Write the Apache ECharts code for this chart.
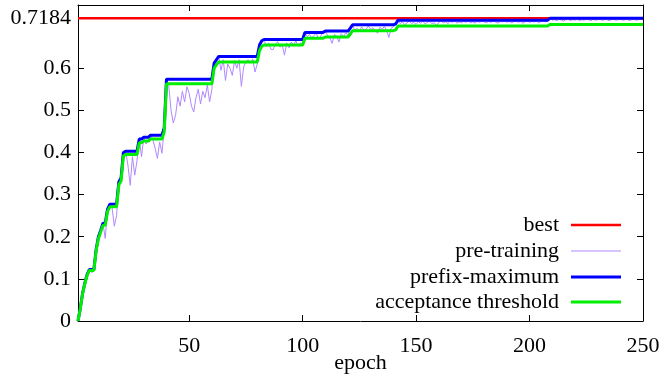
<!DOCTYPE html>
<html>
<head>
<meta charset="utf-8">
<script src="https://cdn.jsdelivr.net/npm/echarts@6/dist/echarts.min.js"></script>
<style>
    html, body { margin: 0; padding: 0; background: #fff; }
    #main { width: 663px; height: 378px; }
</style>
</head>
<body>
<div id="main"></div>
<script>
var bestValue = 0.7184;
var bestEpochs = [1, 250];

// pre-training value for epochs 1..250
var preTraining = [
    0, 0.03, 0.065, 0.09, 0.11, 0.122, 0.115, 0.118, 0.17, 0.2,
    0.215, 0.232, 0.196, 0.265, 0.277, 0.27, 0.225, 0.25, 0.33, 0.34,
    0.4, 0.403, 0.37, 0.322, 0.39, 0.346, 0.38, 0.432, 0.39, 0.436,
    0.42, 0.43, 0.441, 0.43, 0.41, 0.386, 0.425, 0.398, 0.458, 0.574,
    0.56, 0.5, 0.47, 0.488, 0.532, 0.51, 0.545, 0.52, 0.556, 0.54,
    0.51, 0.496, 0.53, 0.55, 0.515, 0.545, 0.53, 0.56, 0.52, 0.55,
    0.612, 0.62, 0.628, 0.595, 0.62, 0.571, 0.61, 0.6, 0.583, 0.618,
    0.6, 0.62, 0.557, 0.603, 0.615, 0.62, 0.612, 0.622, 0.591, 0.61,
    0.655, 0.665, 0.668, 0.65, 0.66, 0.645, 0.644, 0.658, 0.663, 0.65,
    0.655, 0.631, 0.66, 0.648, 0.662, 0.655, 0.665, 0.652, 0.66, 0.658,
    0.685, 0.675, 0.68, 0.672, 0.678, 0.683, 0.67, 0.676, 0.686, 0.688,
    0.678, 0.672, 0.659, 0.68, 0.676, 0.662, 0.682, 0.675, 0.684, 0.678,
    0.695, 0.703, 0.69, 0.695, 0.688, 0.698, 0.69, 0.693, 0.7, 0.692,
    0.696, 0.69, 0.683, 0.697, 0.692, 0.699, 0.69, 0.673, 0.695, 0.698,
    0.705, 0.714, 0.706, 0.71, 0.703, 0.708, 0.712, 0.706, 0.709, 0.704,
    0.71, 0.707, 0.712, 0.705, 0.709, 0.711, 0.706, 0.708, 0.701, 0.709,
    0.712, 0.708, 0.71, 0.706, 0.711, 0.709, 0.712, 0.707, 0.71, 0.708,
    0.711, 0.709, 0.712, 0.708, 0.71, 0.707, 0.711, 0.709, 0.712, 0.71,
    0.708, 0.711, 0.709, 0.712, 0.71, 0.707, 0.711, 0.71, 0.712, 0.709,
    0.711, 0.708, 0.71, 0.712, 0.709, 0.711, 0.707, 0.71, 0.712, 0.709,
    0.711, 0.71, 0.712, 0.708, 0.711, 0.713, 0.71, 0.712, 0.7184, 0.714,
    0.715, 0.713, 0.716, 0.714, 0.712, 0.715, 0.716, 0.713, 0.715, 0.714,
    0.716, 0.713, 0.715, 0.714, 0.716, 0.715, 0.713, 0.716, 0.714, 0.715,
    0.716, 0.714, 0.715, 0.716, 0.713, 0.715, 0.716, 0.714, 0.715, 0.716,
    0.714, 0.715, 0.716, 0.713, 0.715, 0.716, 0.714, 0.715, 0.716, 0.715
];

// [epoch, value] where the prefix-maximum changes
var prefixMax = [
    [1, 0], [2, 0.03], [3, 0.065], [4, 0.09], [5, 0.11], [6, 0.122], [8, 0.122],
    [9, 0.17], [10, 0.2], [11, 0.215], [12, 0.232], [13, 0.232], [14, 0.265],
    [15, 0.277], [18, 0.277], [19, 0.33], [20, 0.34], [21, 0.4], [22, 0.403],
    [27, 0.403], [28, 0.432], [29, 0.432], [30, 0.436], [32, 0.436], [33, 0.441],
    [38, 0.441], [39, 0.458], [40, 0.574], [60, 0.574], [61, 0.612], [62, 0.62],
    [63, 0.628], [80, 0.628], [81, 0.655], [82, 0.665], [83, 0.668], [100, 0.668],
    [101, 0.685], [109, 0.685], [110, 0.688], [120, 0.688], [121, 0.695],
    [122, 0.703], [140, 0.703], [141, 0.705], [142, 0.714], [208, 0.714],
    [209, 0.7184], [250, 0.7184]
];

var threshold = [
    [1, 0], [2, 0.029], [3, 0.064], [4, 0.088], [5, 0.108], [6, 0.12], [8, 0.12],
    [9, 0.167], [10, 0.196], [11, 0.211], [12, 0.227], [13, 0.227], [14, 0.26],
    [15, 0.271], [18, 0.271], [19, 0.323], [20, 0.333], [21, 0.392], [22, 0.395],
    [27, 0.395], [28, 0.423], [29, 0.423], [30, 0.427], [32, 0.427], [33, 0.432],
    [38, 0.432], [39, 0.449], [40, 0.563], [60, 0.563], [61, 0.6], [62, 0.608],
    [63, 0.615], [80, 0.615], [81, 0.642], [82, 0.652], [83, 0.655], [100, 0.655],
    [101, 0.671], [109, 0.671], [110, 0.674], [120, 0.674], [121, 0.681],
    [122, 0.689], [140, 0.689], [141, 0.691], [142, 0.7], [208, 0.7],
    [209, 0.704], [250, 0.704]
];

var xTicks = [50, 100, 150, 200, 250];
var yTicks = [0, 0.1, 0.2, 0.3, 0.4, 0.5, 0.6, 0.7184];

var seriesNames = ['best', 'pre-training', 'prefix-maximum', 'acceptance threshold'];
var seriesColors = ['#ff0000', '#b088ff', '#0000ff', '#00ee00'];
var lineWidths = [2.5, 1, 3, 3];

var fontName = 'Liberation Serif';

var chart = echarts.init(document.getElementById('main'));

function xAxisOf(pos, showLabel) {
    return {
        type: 'value',
        position: pos,
        min: 1,
        max: 250,
        name: showLabel ? 'epoch' : '',
        nameLocation: 'middle',
        nameGap: 31,
        nameMoveOverlap: false,
        nameTextStyle: { fontFamily: fontName, fontSize: 22, color: '#000' },
        axisLine: { show: true, onZero: false, lineStyle: { color: '#000', width: 1 } },
        axisTick: { show: true, inside: true, length: 6, customValues: xTicks, lineStyle: { color: '#000' } },
        axisLabel: {
            show: showLabel,
            customValues: xTicks,
            margin: 14,
            fontFamily: fontName,
            fontSize: 22,
            color: '#000'
        },
        splitLine: { show: false }
    };
}

function yAxisOf(pos, showLabel) {
    return {
        type: 'value',
        position: pos,
        min: 0,
        max: 0.75,
        axisLine: { show: true, onZero: false, lineStyle: { color: '#000', width: 1 } },
        axisTick: { show: true, inside: true, length: 6, customValues: yTicks, lineStyle: { color: '#000' } },
        axisLabel: {
            show: showLabel,
            customValues: yTicks,
            margin: 7,
            fontFamily: fontName,
            fontSize: 22,
            color: '#000',
            formatter: function(v) { return String(v); }
        },
        splitLine: { show: false }
    };
}

var legendTops = [214, 240, 266, 291];
var legends = [];
for (var i = 0; i < seriesNames.length; i++) {
    legends.push({
        data: [seriesNames[i]],
        right: 42,
        top: legendTops[i],
        align: 'right',
        icon: 'rect',
        itemWidth: 50,
        itemHeight: lineWidths[i],
        padding: 0,
        selectedMode: false,
        textStyle: { fontFamily: fontName, fontSize: 22, color: '#000', padding: [0, 7, 0, 0] }
    });
}

var preData = [];
for (var j = 0; j < preTraining.length; j++) {
    preData.push([j + 1, preTraining[j]]);
}

var option = {
    animation: false,
    backgroundColor: '#fff',
    textStyle: { fontFamily: fontName, fontSize: 22 },
    grid: { left: 78, right: 20, top: 5, bottom: 57, containLabel: false, outerBoundsMode: 'none' },
    legend: legends,
    xAxis: [xAxisOf('bottom', true), xAxisOf('top', false)],
    yAxis: [yAxisOf('left', true), yAxisOf('right', false)],
    series: [{
        name: 'best',
        type: 'line',
        symbol: 'none',
        color: seriesColors[0],
        lineStyle: { width: lineWidths[0] },
        data: bestEpochs.map(function(e) { return [e, bestValue]; })
    }, {
        name: 'pre-training',
        type: 'line',
        symbol: 'none',
        color: seriesColors[1],
        lineStyle: { width: lineWidths[1] },
        data: preData
    }, {
        name: 'prefix-maximum',
        type: 'line',
        symbol: 'none',
        color: seriesColors[2],
        lineStyle: { width: lineWidths[2] },
        data: prefixMax
    }, {
        name: 'acceptance threshold',
        type: 'line',
        symbol: 'none',
        color: seriesColors[3],
        lineStyle: { width: lineWidths[3] },
        data: threshold
    }]
};

chart.setOption(option);
</script>
</body>
</html>
